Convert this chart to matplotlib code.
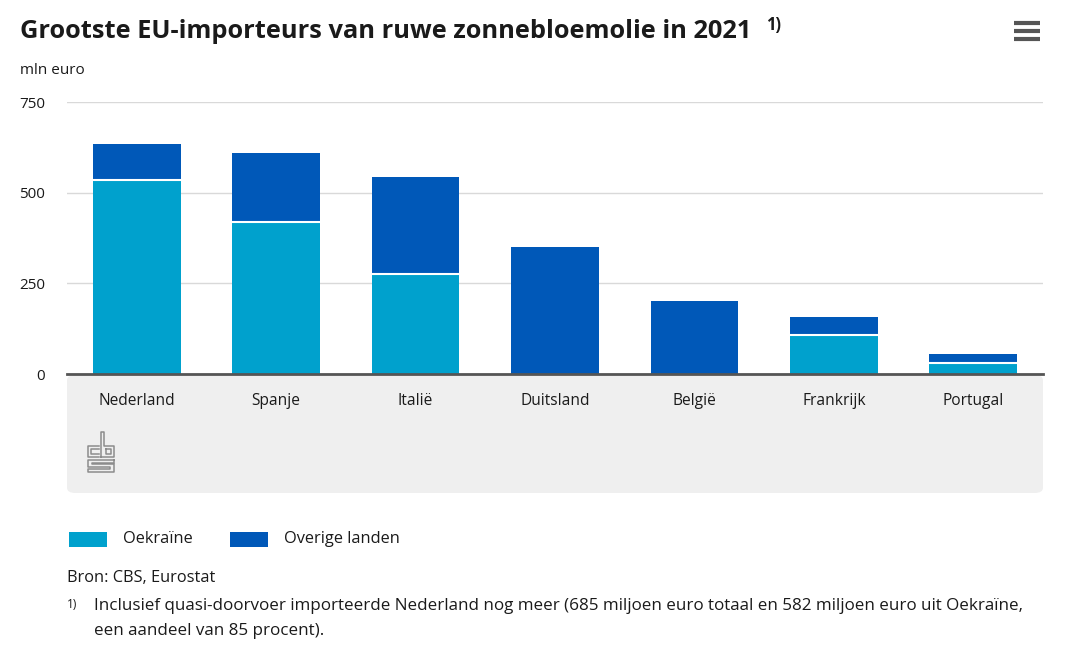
import matplotlib
matplotlib.use("Agg")
import matplotlib.pyplot as plt
from matplotlib.patches import FancyBboxPatch, Rectangle
import numpy as np

plt.rcParams['font.family'] = ['Open Sans', 'DejaVu Sans']

landen = ["Nederland", "Spanje", "Italië", "Duitsland", "België", "Frankrijk", "Portugal"]
oekraine = [535, 418, 277, 0, 0, 108, 30]
overige = [100, 191, 267, 349, 200, 50, 26]
yticks = [0, 250, 500, 750]

c_oek = "#00a1cd"
c_ov = "#0058b8"
txt = "#1a1a1a"

W, H = 1070, 660
fig = plt.figure(figsize=(W / 100, H / 100), dpi=100)

def fx(px):
    return px / W

def fy(py):
    return 1 - py / H

def pline(pts, **kw):
    xs = [fx(p[0]) for p in pts]
    ys = [fy(p[1]) for p in pts]
    fig.add_artist(plt.Line2D(xs, ys, **kw))

# grey band under the axis
band = FancyBboxPatch((fx(67), fy(493)), fx(1043) - fx(67), fy(375) - fy(493),
                      boxstyle="round,pad=0,rounding_size=0.008",
                      transform=fig.transFigure, facecolor="#efefef",
                      edgecolor="none", zorder=-5)
fig.patches.append(band)

ax = fig.add_axes([fx(67), fy(374), fx(1043) - fx(67), fy(102) - fy(374)])
ax.set_facecolor("none")
ax.set_zorder(2)
x = np.arange(len(landen))
ax.bar(x, oekraine, width=0.63, color=c_oek, zorder=3)
ax.bar(x, overige, width=0.63, bottom=oekraine, color=c_ov, zorder=3, linewidth=0)
# thin white separator between the segments
for i in range(len(landen)):
    if oekraine[i] > 0:
        ax.plot([i - 0.315, i + 0.315], [oekraine[i], oekraine[i]], color="white",
                lw=1.5, zorder=4, solid_capstyle="butt")

ax.set_xlim(-0.5, len(landen) - 0.5)
ax.set_ylim(0, 750)
ax.set_yticks(yticks)
ax.set_yticklabels([str(v) for v in yticks], fontsize=11, color=txt)
ax.tick_params(axis="y", length=0, pad=16)
ax.set_xticks(x)
ax.set_xticklabels(landen, fontsize=11.2, color=txt)
ax.tick_params(axis="x", length=0, pad=14)
ax.grid(axis="y", color="#d9d9d9", lw=1, zorder=0)
for s in ["top", "right", "left"]:
    ax.spines[s].set_visible(False)
ax.spines["bottom"].set_color("#555555")
ax.spines["bottom"].set_linewidth(2)
ax.spines["bottom"].set_zorder(5)

# title and unit
fig.text(fx(20), fy(32), "Grootste EU-importeurs van ruwe zonnebloemolie in 2021",
         fontsize=18.3, fontweight="bold", color=txt, va="center", ha="left")
fig.text(fx(766), fy(25), "1)", fontsize=12, fontweight="bold", color=txt,
         va="center", ha="left")
fig.text(fx(20), fy(70), "mln euro", fontsize=11, color=txt, va="center")

# hamburger menu
for yy in [23, 31, 39]:
    pline([(1014, yy), (1040, yy)], color="#555555", lw=3, solid_capstyle="butt")

# cbs logo (rough outline)
lg = dict(color="#8c8c8c", lw=1.1)
pline([(99, 446), (88, 446), (88, 457), (99, 457)], **lg)
pline([(99, 449), (91, 449), (91, 454), (99, 454)], **lg)
pline([(101, 457), (101, 432), (104, 432), (104, 446), (114, 446), (114, 457), (101, 457)], **lg)
pline([(106, 449), (111, 449), (111, 454), (106, 454), (106, 449)], **lg)
pline([(114, 460), (88, 460), (88, 467), (110, 467), (110, 469), (88, 469),
       (88, 472), (114, 472), (114, 464), (92, 464), (92, 463), (114, 463), (114, 460)], **lg)

# legend
fig.add_artist(Rectangle((fx(69), fy(547)), fx(38), 15 / H, transform=fig.transFigure,
                         facecolor=c_oek, edgecolor="none"))
fig.text(fx(123), fy(539), "Oekraïne", fontsize=11.8, color=txt, va="center")
fig.add_artist(Rectangle((fx(230), fy(547)), fx(38), 15 / H, transform=fig.transFigure,
                         facecolor=c_ov, edgecolor="none"))
fig.text(fx(284), fy(539), "Overige landen", fontsize=11.8, color=txt, va="center")

# source and footnote
fig.text(fx(67), fy(578), "Bron: CBS, Eurostat", fontsize=11.8, color=txt, va="center")
fig.text(fx(67), fy(604), "1)", fontsize=8.5, color=txt, va="center")
fig.text(fx(94), fy(606),
         "Inclusief quasi-doorvoer importeerde Nederland nog meer (685 miljoen euro totaal en 582 miljoen euro uit Oekraïne,",
         fontsize=12.25, color=txt, va="center")
fig.text(fx(94), fy(631), "een aandeel van 85 procent).", fontsize=12.25, color=txt, va="center")

fig.savefig("out.png", dpi=100, facecolor="white")
